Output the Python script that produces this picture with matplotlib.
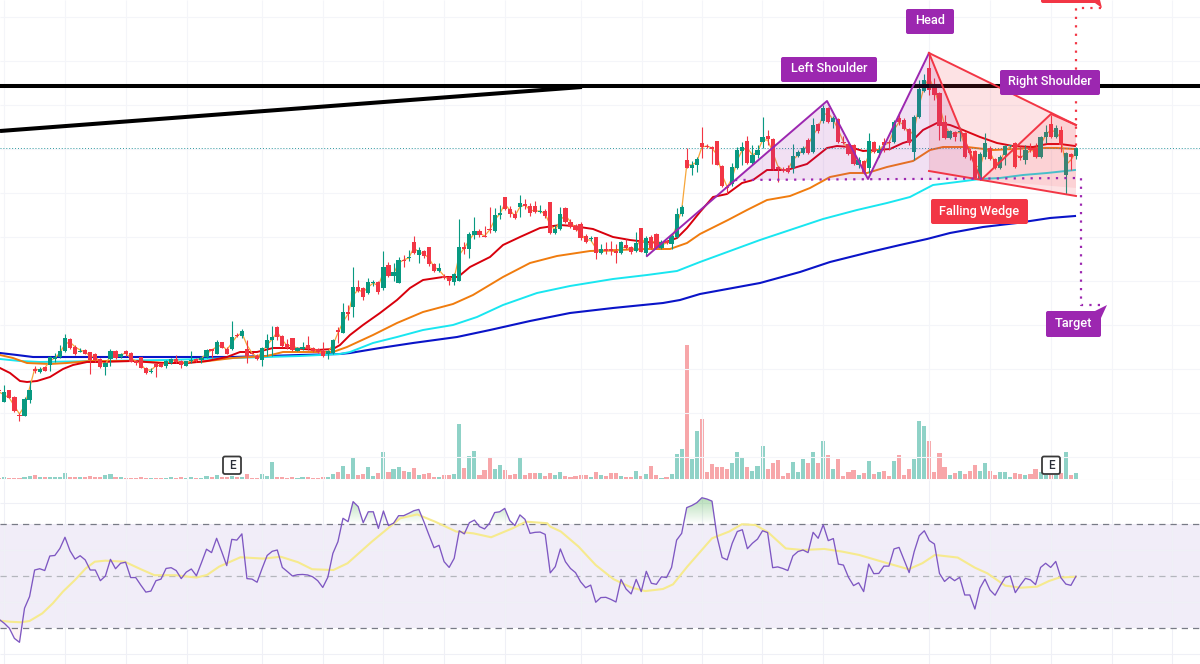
import matplotlib
matplotlib.use("Agg")
import matplotlib.pyplot as plt
import numpy as np
from matplotlib.patches import FancyBboxPatch, Polygon
from matplotlib.path import Path

# price pane in screen units (smaller = higher price)
opens = [
    390, 402, 390, 397, 415, 416, 400, 369, 372, 367,
    365, 359, 357, 351, 339, 347, 352, 350, 352, 354,
    359, 367, 359, 351, 357, 351, 353, 361, 357, 368,
    371.5, 364, 363, 366, 363, 359, 361, 366, 361, 359,
    360, 357, 349, 354, 342, 349, 349, 335, 336, 349,
    353, 356, 360, 348, 340, 327, 336, 344, 338, 351,
    349, 345, 348, 349, 351, 354, 353, 330, 333, 312,
    307, 287, 288, 293, 282.5, 282, 288, 265, 276, 283,
    259.5, 258, 242, 255, 251, 247, 264, 271, 276, 277,
    282, 281, 247, 249, 235, 231, 236, 229, 231, 215,
    197, 209, 214, 207, 204, 206, 206, 211.5, 211, 202,
    233, 229, 208, 222, 226, 224, 236, 239, 237, 253,
    249, 249, 251, 253, 245, 247, 251, 228, 253, 237,
    234, 248, 241, 244, 237, 214, 160, 168, 165, 143,
    145.5, 147, 141, 166, 187, 184, 168, 151, 141, 163,
    155, 142, 136, 139, 167, 169, 168, 168, 156, 153,
    140, 152, 124, 121, 108, 122, 119, 142, 144, 145,
    165, 161, 168, 142, 153, 142, 142, 142, 118, 120,
    129, 152, 117, 91, 68, 88, 93, 122, 138, 132,
    132, 133, 151, 151, 179, 157, 148, 159, 168, 155,
    146, 143, 156, 160, 148, 148, 157, 137, 124, 137,
    130, 175, 154, 156,
]
closes = [
    391, 392, 398, 411, 416, 399, 390, 371, 369, 371,
    357, 357, 351, 338, 348, 354, 351, 354, 360, 360,
    367, 363, 351, 358, 354, 354, 362, 363, 368, 373,
    370.5, 367, 367, 361, 359, 362, 365, 361, 360, 361,
    358, 350, 351, 342, 348, 354, 337, 336, 331, 356,
    354, 359, 348, 340, 337, 337, 346, 348, 350, 348,
    347, 349, 351, 352, 356, 351, 340, 332, 312, 314,
    287, 291, 297, 282, 282, 292, 267, 276, 272, 260,
    261, 257, 253, 250, 256, 264, 271, 268, 278, 281,
    274, 247, 249, 234, 231, 235, 237, 230, 215, 213,
    209, 214, 218, 203, 206, 213, 212, 210.5, 216, 233,
    229, 214, 222, 227, 230, 238, 242, 238, 253, 249,
    251, 251, 253, 242, 248, 252, 243, 252, 238, 248,
    248, 242, 243, 236, 214, 207, 168, 165, 159, 147,
    146.5, 149, 165, 186, 188, 167, 150, 147, 163, 155,
    150, 137, 139, 169, 169, 171, 172, 156, 152, 148,
    153, 125, 131, 108, 122, 118, 142, 143, 154, 164,
    160, 173, 141, 152, 150, 145, 143, 122, 122, 129,
    143, 117, 89, 80, 90, 95, 126, 138, 131, 137,
    131, 157, 153, 178, 154, 143, 159, 168, 157, 146,
    145, 167, 158, 150, 150, 157, 137, 132, 137, 128,
    145, 153, 157, 148,
]
highs = [
    389, 385, 390, 396, 413, 397, 381, 366, 367, 367,
    356, 353, 345, 334, 338, 345, 348, 349, 352, 353,
    358, 362, 349, 350, 353, 350, 352, 360, 357, 367,
    368, 363, 363, 360, 358, 355, 360, 361, 351, 358,
    356, 349, 349, 340, 342, 347, 321, 333, 329, 340,
    352, 354, 347, 334, 326, 326, 335, 339, 338, 347,
    342, 336, 347, 348, 342, 350, 339, 327, 303, 305,
    267, 280, 287, 278, 280, 281, 251, 262, 263, 257,
    255, 250, 236, 247, 250, 247, 263, 263, 274, 276,
    273, 219, 242, 232, 217, 229, 226, 207, 208, 205,
    197, 206, 210, 195, 199, 203, 201, 205, 209, 202,
    225, 207, 207, 219, 224, 222, 234, 236, 237, 244,
    242, 241, 244, 241, 239, 246, 232, 228, 236, 235,
    233, 240, 240, 234, 208, 205, 148, 161, 157, 127,
    144, 146, 141, 165, 185, 163, 147, 142, 136, 145,
    145, 117, 130, 138, 166, 167, 165, 144, 150, 146,
    138, 118, 123, 105, 107, 116, 118, 136, 143, 144,
    157, 160, 133, 141, 145, 138, 140, 120, 112, 118,
    128, 115, 80, 74, 55, 78, 92, 115, 130, 131,
    127, 132, 148, 150, 152, 133, 146, 158, 155, 145,
    145, 142, 146, 145, 143, 143, 136, 125, 115, 125,
    126, 152, 153, 147,
]
lows = [
    391, 402, 398, 412, 421, 416, 403, 373, 373, 371,
    371, 362, 358, 352, 349, 355, 352, 354, 374, 362,
    368, 375, 366, 359, 358, 356, 362, 365, 368, 374,
    373, 377, 367, 368, 364, 363, 368, 366, 363, 362,
    363, 358, 358, 354, 348, 354, 350, 337, 338, 363,
    354, 360, 366, 356, 356, 340, 347, 349, 351, 351,
    350, 350, 352, 353, 357, 359, 354, 343, 333, 320,
    317, 292, 300, 294, 286, 294, 290, 277, 281, 283,
    267, 261, 254, 263, 258, 266, 272, 272, 279, 285,
    285, 281, 254, 258, 239, 237, 237, 233, 232, 219,
    210, 217, 219, 217, 209, 216, 213, 213, 218, 234,
    234, 230, 223, 228, 231, 240, 243, 241, 259, 254,
    254, 255, 263, 254, 249, 254, 252, 252, 256, 249,
    249, 249, 244, 249, 238, 216, 168, 175, 172, 158,
    148, 164, 165, 187, 194, 186, 169, 165, 164, 165,
    158, 148, 145, 170, 182, 172, 173, 173, 157, 154,
    154, 153, 133, 123, 123, 128, 143, 144, 155, 165,
    168, 174, 173, 153, 157, 152, 150, 143, 125, 130,
    145, 160, 118, 92, 95, 100, 140, 139, 139, 141,
    141, 158, 160, 179, 180, 159, 160, 169, 169, 165,
    147, 168, 160, 164, 152, 158, 158, 143, 138, 138,
    152, 194, 170, 159,
]
volume = [
    1, 2, 1, 1, 1, 2, 3.5, 4, 2, 2,
    2, 2, 2, 6, 2.5, 2.5, 2, 2, 3, 2.5,
    2, 4, 5, 2, 2, 1.5, 1.5, 1.5, 2, 1.5,
    1.5, 1.5, 1.5, 1.5, 2, 1.5, 2, 1.5, 2, 1.5,
    1.5, 3, 2, 4, 2.5, 2, 3, 2.5, 2.5, 5,
    1, 1, 5, 3, 17, 2.5, 2.5, 1.5, 2, 1.5,
    2, 2, 1.5, 1.5, 2, 2, 5, 7, 13, 5,
    22, 4, 5, 12, 3, 6, 27, 7, 10, 12,
    8, 7, 11, 4, 5, 6, 2.5, 2.5, 4, 4,
    5, 55, 11, 23, 28, 4, 9, 22, 10, 14,
    9, 4.5, 5, 22, 4, 6, 6, 6, 3.5, 6,
    4, 7, 3, 2.5, 3, 4, 4, 2.5, 7, 4,
    3, 6, 6, 3, 2.5, 2.5, 8, 3, 5, 13,
    4, 1.5, 2.5, 5, 25, 30, 134, 20, 48, 60,
    7, 15, 12, 12, 10, 16, 27, 22, 12, 8,
    13, 33, 10, 16, 19, 3, 6, 17, 7, 20,
    16, 27, 16, 38, 24, 10, 20, 3, 7, 9,
    4, 6, 18, 5, 7, 8, 3, 18, 24, 4,
    10, 20, 58, 53, 38, 7, 26, 12, 4, 6,
    8, 5, 8, 14, 8, 16, 8, 4, 7, 7,
    2.5, 6, 5, 4, 5, 10, 7, 4, 4, 4,
    6, 27, 4, 6,
]
fast_close_line = [
    392, 395, 398, 406, 414, 406, 388, 369, 370, 368,
    361, 358, 353, 344, 342, 347, 350, 352, 356, 357,
    362, 364, 356, 354, 355, 353, 358, 361, 364, 370,
    370, 366, 365, 363, 361, 360, 363, 363, 361, 360,
    358, 354, 350, 347, 345, 350, 343, 336, 333, 345,
    353, 357, 352, 345, 339, 332, 340, 346, 345, 349,
    348, 347, 349, 351, 354, 352, 345, 333, 322, 314,
    295, 290, 292, 287, 283, 286, 272, 271, 274, 263,
    260, 258, 248, 252, 254, 258, 267, 270, 276, 280,
    278, 255, 248, 240, 233, 233, 236, 230, 220, 214,
    204, 210, 216, 207, 205, 210, 211, 211, 214, 225,
    230, 220, 215, 222, 228, 233, 240, 240, 248, 252,
    251, 251, 252, 248, 247, 250, 247, 238, 245, 243,
    240, 245, 243, 240, 225, 210, 165, 165, 162, 147,
    146, 148, 155, 175, 187, 178, 160, 150, 148, 155,
    152, 140, 140, 152, 166, 170, 170, 160, 155, 150,
    145, 135, 128, 115, 113, 120, 130, 142, 150, 155,
    162, 168, 155, 150, 150, 145, 143, 130, 122, 125,
    135, 130, 105, 86, 78, 90, 105, 125, 133, 134,
    132, 145, 150, 165, 168, 150, 152, 163, 162, 150,
    147, 155, 157, 155, 150, 152, 145, 135, 130, 132,
    138, 165, 160, 152,
]

ema_red_x = [0, 10, 20, 27, 37, 50, 63, 73, 87, 100, 133, 160, 187, 207, 227, 240, 257, 273, 290, 317, 333, 340, 350, 363, 380, 397, 410, 423, 443, 458, 470, 490, 503, 520, 540, 560, 573, 593, 613, 630, 647, 663, 677, 687, 700, 713, 727, 742, 753, 767, 787, 807, 827, 837, 850, 863, 877, 890, 903, 913, 923, 937, 950, 963, 980, 997, 1013, 1033, 1047, 1060, 1075]
ema_red_y = [368, 373, 381, 382, 381, 377, 369, 365, 362, 362, 361, 363, 363, 361, 357, 352, 352, 348, 348, 350, 349, 345, 335, 325, 313, 300, 288, 280, 277, 277, 267, 257, 245, 237, 228, 225, 226, 229, 237, 240, 242, 243, 238, 228, 212, 197, 194, 183, 180, 170, 170, 164, 148, 146, 147, 151, 150, 149, 143, 140, 130, 123, 125, 130, 137, 143, 146, 147, 144, 144, 146]
ema_orange_x = [0, 13, 27, 50, 67, 90, 133, 167, 200, 233, 267, 283, 317, 333, 347, 373, 397, 423, 453, 473, 503, 530, 557, 590, 617, 647, 670, 687, 700, 728, 747, 767, 790, 810, 830, 850, 867, 887, 913, 930, 943, 967, 993, 1013, 1033, 1057, 1075]
ema_orange_y = [355, 358, 363, 364, 363, 361, 361, 363, 362, 358, 356, 352, 352, 352, 347, 335, 323, 312, 304, 295, 277, 263, 256, 251, 250, 249, 249, 243, 234, 220, 210, 200, 196, 188, 177, 173, 173, 167, 161, 150, 147, 147, 150, 149, 148, 148, 149]
ema_cyan_x = [0, 20, 40, 100, 167, 233, 300, 340, 350, 373, 397, 423, 453, 477, 503, 537, 570, 613, 647, 677, 700, 760, 823, 857, 887, 910, 933, 957, 980, 1000, 1023, 1047, 1075]
ema_cyan_y = [359, 361, 362, 361, 360, 358, 356, 354, 352, 343, 337, 330, 325, 317, 305, 293, 286, 279, 275, 271, 262, 240, 219, 210, 203, 197, 185, 182, 179, 178, 175, 173, 170]
ema_blue_x = [0, 17, 33, 100, 167, 233, 300, 340, 350, 380, 413, 457, 490, 530, 570, 613, 663, 680, 700, 760, 800, 830, 870, 900, 927, 950, 983, 1017, 1050, 1075]
ema_blue_y = [353, 355, 357, 357, 357, 357, 355, 354, 353, 348, 343, 337, 330, 321, 313, 308, 303, 300, 294, 283, 272, 262, 252, 245, 239, 233, 227, 223, 218, 216]

rsi = [
    33.3, 31.8, 29.9, 26, 24.5, 37.6, 42.1, 52.3, 52.8, 52.1,
    57.7, 57.9, 60.6, 64.9, 59.7, 56.5, 57.8, 56.2, 52.3, 52.3,
    48.2, 50, 56.4, 52.8, 54.9, 55.3, 49.4, 49.4, 46.5, 43.8,
    44.2, 48.2, 48.8, 52.9, 53.2, 52.1, 49, 51.5, 52.7, 50.1,
    55.1, 60.3, 59, 64.5, 59.4, 54, 64.1, 63.8, 66.2, 49,
    48.8, 47.6, 52.9, 57.9, 59.5, 60, 53.3, 51.7, 50, 50.5,
    50.6, 50.4, 49.7, 48.2, 45.6, 49.5, 58.7, 63.2, 72.2, 70.9,
    78.6, 76.7, 70.5, 74.7, 74.7, 68.3, 75, 69.4, 70.3, 73.2,
    73.2, 74.1, 75.1, 75.6, 70.9, 65.8, 60.9, 61.8, 55.5, 53.3,
    56.8, 67.4, 66.2, 70.5, 71.5, 69, 68.1, 70.3, 74.4, 74.7,
    76, 71.3, 69.4, 73.5, 71.8, 66.4, 66.8, 66.9, 66, 51.2,
    53.6, 60.4, 55.5, 52.9, 51.3, 47.8, 45.5, 46.5, 39.9, 41.7,
    41.8, 41, 40, 48.7, 45, 43.1, 48.7, 44, 51.8, 47.2,
    46.8, 49.7, 49.4, 53.3, 63.8, 66.4, 76.3, 77.1, 78.2, 80.1,
    79.6, 78.8, 65.1, 57.1, 56.2, 62.6, 67.1, 67.8, 60.5, 62.6,
    64.2, 67.4, 66.7, 53.2, 53.5, 52.9, 52.1, 57.7, 59.4, 60,
    59, 66.8, 64.5, 69.7, 63.6, 64.4, 54.6, 54.2, 49.5, 46.3,
    47.4, 44, 54.6, 50.9, 51, 53.8, 53.8, 60.4, 61, 56.2,
    51.3, 59.4, 65.5, 67.4, 63.6, 62.3, 51, 47.9, 49.6, 48.2,
    49.5, 42.7, 42.7, 37.3, 45.3, 48.8, 44.6, 42.6, 46.2, 49.4,
    50, 43.6, 46.5, 49.1, 48.5, 46.7, 53.3, 54.9, 53.3, 55.6,
    49.4, 46.9, 46.4, 49.9,
]
rsi_ma_bar = [0.1, 2.2, 4.3, 6, 8.5, 10.6, 12.6, 15, 17.1, 18.9, 21, 24.8, 27.9, 30.7, 34.8, 39, 41.1, 43.5, 47.7, 52.2, 55.7, 59.1, 61.9, 66.1, 68.9, 73.7, 79.3, 82.7, 86.2, 90.4, 93.8, 97.3, 101.5, 104.2, 108.4, 109, 111.1, 114.6, 118, 121.5, 125, 127.8, 131.3, 133.3, 136.1, 141, 144.4, 146.9, 149.6, 152.1, 155.6, 159, 163.2, 166.7, 170.1, 175, 179.9, 182.6, 185.1, 189.6, 193, 195.5, 199, 202.1, 205.3, 207.7, 209.7, 213]
rsi_ma = [32.8, 32.4, 32.2, 32.7, 35.6, 39.5, 44, 48.5, 52.9, 55.5, 55.9, 55.5, 52.7, 50.3, 50.3, 49.4, 50.4, 53.6, 57.2, 56.7, 57.4, 55.3, 52.6, 52.3, 54.9, 63.2, 72.2, 73.7, 70.9, 67.1, 66.4, 64.9, 68.3, 70.9, 70.3, 69, 67.1, 61.3, 54.2, 48.8, 45.6, 44.2, 45, 46.8, 53.6, 64.5, 67.1, 69.9, 69.6, 66.8, 60.6, 60, 60.4, 59.4, 58.1, 55.3, 52.6, 54.9, 58.1, 57.1, 53.2, 51, 46.3, 45.5, 45.9, 48.1, 49.4, 49.7]

# bar spacing and grid positions on the time axis
BAR0 = -0.75
BAR_STEP = 5.055
grid_x = [4, 65, 126, 187, 262, 323, 383, 444, 505, 581, 642, 702, 762, 823, 929, 990, 1051, 1112, 1172]
grid_y = [17, 61, 105, 149, 193, 237, 281, 325, 369, 413, 457]
rsi_grid = [78, 60, 40, 20]

purple = "#9c27b0"
pink_red = "#f23645"
up_color = "#089981"
down_color = "#f23645"
grid_color = "#f4f5f9"


def bar_x(idx):
    return BAR0 + BAR_STEP * np.asarray(idx, dtype=float)


def draw_callout(ax, left, top, right, bottom, color, text, tail=None):
    box = FancyBboxPatch(
        (left, top), right - left, bottom - top,
        boxstyle="round,pad=0,rounding_size=2", fc=color, ec="none", zorder=9,
    )
    ax.add_patch(box)
    if tail:
        ax.add_patch(Polygon(tail, closed=True, fc=color, ec="none", zorder=9))
    if text:
        ax.text((left + right) / 2, (top + bottom) / 2 - 0.5, text, color="white", fontsize=9.2,
                family="Roboto", weight="medium", ha="center", va="center", zorder=10)


def draw_earnings(ax, cx):
    ax.add_patch(FancyBboxPatch(
        (cx - 9, 456.5), 18, 17.5, boxstyle="round,pad=0,rounding_size=2",
        fc="white", ec="#3a3a3a", lw=1.3, zorder=8,
    ))
    ax.text(cx, 465.5, "E", color="#2a2e39", fontsize=8.5, family="Roboto",
            weight="medium", ha="center", va="center", zorder=9)


fig = plt.figure(figsize=(12, 6.64), dpi=100, facecolor="white")
ax_vol = fig.add_axes([0, 184 / 664, 1, 480 / 664], zorder=1)
ax = fig.add_axes([0, 184 / 664, 1, 480 / 664], zorder=2)
ax_rsi = fig.add_axes([0, 0, 1, 184 / 664], zorder=1)
ax.patch.set_alpha(0)

for a in (ax, ax_vol, ax_rsi):
    a.set_xlim(0, 1200)
    a.axis("off")
ax.set_ylim(480, 0)
ax_vol.set_ylim(-1, 479)
rsi_limits = (50 - 88 / 2.6, 50 + 96 / 2.6)
ax_rsi.set_ylim(*rsi_limits)

xs = bar_x(np.arange(len(closes)))
o = np.array(opens, dtype=float)
c = np.array(closes, dtype=float)
rising = c <= o

# grid
ax.vlines(grid_x, 0, 480, color=grid_color, lw=0.8, zorder=0)
ax.hlines(grid_y, 0, 1200, color=grid_color, lw=0.8, zorder=0)
ax.hlines(479.5, 0, 1200, color="#e0e3eb", lw=0.8, zorder=0)

# volume
vol_colors = np.where(rising, "#8fd2c7", "#f7a6a9")
ax_vol.bar(xs, volume, width=4.1, color=vol_colors, zorder=2)

# moving averages and fast line under the candles
ax.plot(ema_blue_x, ema_blue_y, color="#0a14c8", lw=1.5, zorder=2, solid_joinstyle="round")
ax.plot(ema_cyan_x, ema_cyan_y, color="#19e6f0", lw=1.4, zorder=2, solid_joinstyle="round")
ax.plot(ema_orange_x, ema_orange_y, color="#f07c0e", lw=1.4, zorder=2, solid_joinstyle="round")
ax.plot(ema_red_x, ema_red_y, color="#d8000c", lw=1.4, zorder=2, solid_joinstyle="round")
ax.plot(xs, fast_close_line, color="#f7a63a", lw=0.9, zorder=3)

# candles
colors = np.where(rising, up_color, down_color)
ax.vlines(xs, highs, lows, color=colors, lw=0.8, zorder=4)
body_top = np.minimum(o, c)
body_h = np.maximum(np.abs(o - c), 1.0)
ax.bar(xs, body_h, bottom=body_top, width=4.2, color=colors, lw=0, zorder=5)

# trend lines and last price line
ax.plot([0, 1200], [86, 86], color="black", lw=2.9, zorder=6, solid_capstyle="butt")
ax.plot([0, 582], [131, 87], color="black", lw=2.9, zorder=6, solid_capstyle="butt")
ax.plot([0, 1200], [148, 148], color="#2f9aa0", lw=0.7, ls=(0, (1, 2)), zorder=3)

# head and shoulders
hs_x = [647, 827, 868, 929]
hs_y = [256, 101, 179, 53]
hs_fill = [(735, 180), (827, 101), (868, 179), (929, 53), (981, 180)]
ax.add_patch(Polygon(hs_fill, closed=True, fc=purple, alpha=0.14, ec="none", zorder=6))
ax.plot(hs_x, hs_y, color=purple, lw=1.4, zorder=7)

# falling wedge
wedge = [(929, 53), (1076, 125), (1076, 196), (929, 171)]
ax.add_patch(Polygon(wedge, closed=True, fc=pink_red, alpha=0.14, ec="none", zorder=6))
ax.add_patch(Polygon([(981, 180), (1051, 114), (1076, 125), (1076, 188)], closed=True,
                     fc=pink_red, alpha=0.09, ec="none", zorder=6))
ax.plot([929, 1076], [53, 125], color=pink_red, lw=1.4, zorder=7)
ax.plot([929, 1076], [171, 196], color=pink_red, lw=1.4, zorder=7)
ax.plot([929, 981, 1051, 1076], [53, 180, 114, 125], color=pink_red, lw=1.4, zorder=7)

# measured moves
ax.plot([735, 1081, 1081, 1105], [180, 178, 305, 305], color=purple, lw=1.6,
        ls=(0, (1, 2.8)), zorder=7)
ax.plot([1101, 1076, 1076], [8, 8, 150], color=pink_red, lw=1.6, ls=(0, (1, 2.8)), zorder=7)

draw_callout(ax, 906, 9, 954, 34, purple, "Head")
draw_callout(ax, 781, 57, 877, 82, purple, "Left Shoulder")
draw_callout(ax, 1000, 70, 1100, 95, purple, "Right Shoulder")
draw_callout(ax, 1046, 311, 1101, 337, purple, "Target",
             tail=[(1095, 311), (1107, 305), (1101, 318)])
draw_callout(ax, 931, 199, 1028, 224, pink_red, "Falling Wedge")
draw_callout(ax, 1041, -5, 1100, 3, pink_red, "",
             tail=[(1095, 3), (1102, 8), (1100, 0)])

draw_earnings(ax, 232)
draw_earnings(ax, 1051)

# rsi pane
ax_rsi.axhspan(30, 70, color="#7e57c2", alpha=0.1, lw=0, zorder=1)
ax_rsi.vlines(grid_x, *rsi_limits, color="#eff0f6", lw=0.8, zorder=2)
ax_rsi.hlines(rsi_grid, 0, 1200, color="#eff0f6", lw=0.8, zorder=2)
ax_rsi.plot([0, 1200], [70, 70], color="#787b86", lw=0.9, ls=(0, (5, 4)), zorder=3)
ax_rsi.plot([0, 1200], [50, 50], color="#b4b6bd", lw=0.9, ls=(0, (5, 4)), zorder=3)
ax_rsi.plot([0, 1200], [30, 30], color="#787b86", lw=0.9, ls=(0, (5, 4)), zorder=3)
rsi_arr = np.array(rsi)

# overbought area fades out towards the 70 line
above = ax_rsi.fill_between(xs, 70, rsi_arr, where=rsi_arr > 70, interpolate=True,
                            color="none", lw=0, zorder=3)
fade = np.zeros((64, 1, 4))
fade[..., 0], fade[..., 1], fade[..., 2] = 0.30, 0.69, 0.31
fade[..., 3] = np.linspace(0.45, 0.0, 64).reshape(64, 1)
fade_img = ax_rsi.imshow(fade, extent=[0, 1200, 70, 81], aspect="auto", origin="upper", zorder=3)
clip = Path.make_compound_path(*above.get_paths())
fade_img.set_clip_path(clip, transform=ax_rsi.transData)
ax_rsi.set_xlim(0, 1200)
ax_rsi.set_ylim(*rsi_limits)

ax_rsi.fill_between(xs, 30, rsi_arr, where=rsi_arr < 30, interpolate=True,
                    color="#f23645", alpha=0.06, lw=0, zorder=3)
ax_rsi.plot(bar_x(rsi_ma_bar), rsi_ma, color="#f6ea8e", lw=1.5, zorder=4)
ax_rsi.plot(xs, rsi_arr, color="#7e57c2", lw=0.95, zorder=5)

fig.savefig("out.png", dpi=100, facecolor="white")
